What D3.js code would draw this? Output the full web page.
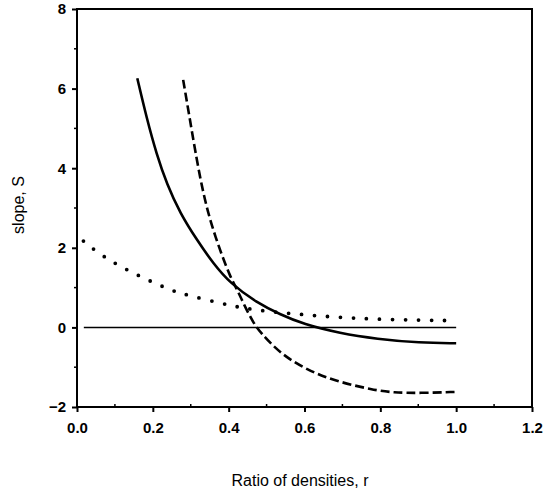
<!DOCTYPE html>
<html>
<head>
<meta charset="utf-8">
<script src="https://cdn.jsdelivr.net/npm/d3@7"></script>
<style>
  body { margin: 0; background: #fff; }
  text { font-family: "Liberation Sans", Arial, sans-serif; }
</style>
</head>
<body>
<script>
// values
var xTicks = [0.0, 0.2, 0.4, 0.6, 0.8, 1.0, 1.2];
var yTicks = [-2, 0, 2, 4, 6, 8];

var solidR = [0.159, 0.184, 0.21, 0.237, 0.272, 0.316, 0.359, 0.404, 0.474, 0.535, 0.597, 0.694, 0.79, 0.905, 1.0];
var solidS = [6.26, 5.25, 4.35, 3.6, 2.87, 2.2, 1.61, 1.11, 0.62, 0.33, 0.08, -0.15, -0.29, -0.39, -0.4];

var dashR = [0.28, 0.298, 0.316, 0.333, 0.351, 0.377, 0.404, 0.425, 0.443, 0.465, 0.483, 0.535, 0.606, 0.685, 0.781, 0.834, 0.905, 1.0];
var dashS = [6.22, 5.21, 4.2, 3.37, 2.69, 1.94, 1.27, 0.9, 0.52, 0.12, -0.12, -0.65, -1.07, -1.36, -1.57, -1.64, -1.65, -1.62];

var dotR = [0.017, 0.052, 0.089, 0.127, 0.171, 0.213, 0.257, 0.3, 0.377, 0.43, 0.491, 0.606, 0.764, 1.0];
var dotS = [2.17, 1.9, 1.67, 1.47, 1.26, 1.08, 0.9, 0.79, 0.61, 0.5, 0.41, 0.31, 0.2, 0.17];

var zeroR = [0.018, 1.0];
var zeroS = [0, 0];

var width = 549, height = 494;
var margin = ({top: 9, right: 17, bottom: 87, left: 77});

var x = d3.scaleLinear()
    .domain([0, 1.2])
    .range([margin.left, width - margin.right]);

var y = d3.scaleLinear()
    .domain([-2, 8])
    .range([height - margin.bottom, margin.top]);

const svg = d3.select("body").append("svg")
    .attr("width", width)
    .attr("height", height);

var line = d3.line()
    .x(d => x(d[0]))
    .y(d => y(d[1]))
    .curve(d3.curveBasis);

function pairs(a, b) { return a.map((v, i) => [v, b[i]]); }

// frame
svg.append("rect")
    .attr("x", x(0))
    .attr("y", y(8))
    .attr("width", x(1.2) - x(0))
    .attr("height", y(-2) - y(8))
    .attr("fill", "none")
    .attr("stroke", "#000")
    .attr("stroke-width", 2);

// axes
svg.append("g")
    .attr("transform", `translate(0,${y(-2)})`)
    .call(d3.axisBottom(x).tickValues(xTicks).tickFormat(d3.format(".1f")).tickSize(5).tickPadding(10))
    .call(g => g.select(".domain").remove())
    .call(g => g.selectAll("line").attr("stroke-width", 2))
    .call(g => g.selectAll("text").attr("font-size", 15).attr("font-weight", "bold").attr("fill", "#000"));

svg.append("g")
    .attr("transform", `translate(${x(0)},0)`)
    .call(d3.axisLeft(y).tickValues(yTicks).tickSize(5).tickPadding(6))
    .call(g => g.select(".domain").remove())
    .call(g => g.selectAll("line").attr("stroke-width", 2))
    .call(g => g.selectAll("text").attr("font-size", 15).attr("font-weight", "bold").attr("fill", "#000"));

// minor ticks
svg.append("g")
    .selectAll("line")
    .data([0.1, 0.3, 0.5, 0.7, 0.9, 1.1])
    .enter().append("line")
      .attr("x1", d => x(d)).attr("x2", d => x(d))
      .attr("y1", y(-2)).attr("y2", y(-2) - 3)
      .attr("stroke", "#000").attr("stroke-width", 1.5);

svg.append("g")
    .selectAll("line")
    .data([-1, 1, 3, 5, 7])
    .enter().append("line")
      .attr("x1", x(0) - 3).attr("x2", x(0))
      .attr("y1", d => y(d)).attr("y2", d => y(d))
      .attr("stroke", "#000").attr("stroke-width", 1.5);

// zero line
svg.append("path")
    .attr("d", line(pairs(zeroR, zeroS)))
    .attr("fill", "none").attr("stroke", "#000").attr("stroke-width", 1.5);

// curves
svg.append("path")
    .attr("d", line(pairs(solidR, solidS)))
    .attr("fill", "none").attr("stroke", "#000").attr("stroke-width", 2.6);

svg.append("path")
    .attr("d", line(pairs(dashR, dashS)))
    .attr("fill", "none").attr("stroke", "#000").attr("stroke-width", 2.6)
    .attr("stroke-dasharray", "9,4");

svg.append("path")
    .attr("d", line(pairs(dotR, dotS)))
    .attr("fill", "none").attr("stroke", "#000").attr("stroke-width", 3.8)
    .attr("stroke-linecap", "round")
    .attr("stroke-dasharray", "0,13");

// axis titles
svg.append("text")
    .attr("x", 300)
    .attr("y", 486)
    .attr("text-anchor", "middle")
    .attr("font-size", 16)
    .text("Ratio of densities, r");

svg.append("text")
    .attr("transform", "translate(24,205) rotate(-90)")
    .attr("text-anchor", "middle")
    .attr("font-size", 16)
    .text("slope, S");
</script>
</body>
</html>
